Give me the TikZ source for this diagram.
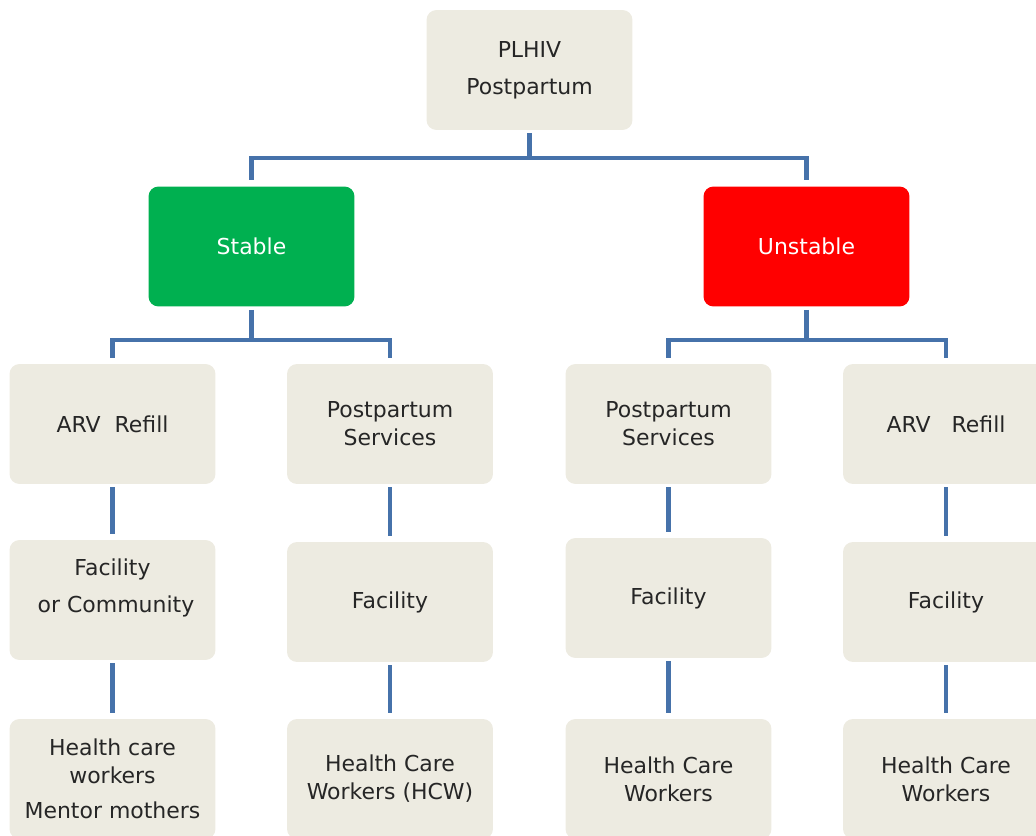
\documentclass[tikz,border=0pt]{standalone}
\usepackage{fontspec}
\setmainfont{DejaVu Sans}
\definecolor{boxfill}{RGB}{237,235,225}
\definecolor{boxtext}{RGB}{38,38,38}
\definecolor{linkblue}{RGB}{70,114,170}
\definecolor{stablegreen}{RGB}{0,176,80}
\definecolor{unstablered}{RGB}{255,0,0}
\begin{document}
\begin{tikzpicture}[x=0.02cm,y=-0.02cm,line join=miter,
box/.style={rectangle,rounded corners=0.2cm,fill=boxfill,text=boxtext,align=center,
  minimum width=4.12cm,minimum height=2.4cm,inner sep=0pt,font=\fontsize{12.5pt}{16pt}\selectfont},
link/.style={draw=linkblue,line width=2.8pt,shorten <=1.7pt,shorten >=3.4pt}]
\clip (0,0) rectangle (1036,836);
\path
(529.5,70) node[box] (plhiv) {PLHIV\\[5pt]Postpartum}
(251.5,246.5) node[box,fill=stablegreen,text=white] (stable) {Stable}
(806.5,246.5) node[box,fill=unstablered,text=white] (unstable) {Unstable}
(112.5,424) node[box] (arvL) {ARV\ \ Refill}
(390,424) node[box] (ppsL) {Postpartum\\Services}
(668.5,424) node[box] (ppsR) {Postpartum\\Services}
(946,424) node[box] (arvR) {ARV\ \ \ Refill}
(112.5,600) node[box] (facL) {Facility\\[5pt]\ or Community\\\mbox{}}
(390,602) node[box] (facML) {Facility}
(668.5,598) node[box] (facMR) {Facility}
(946,602) node[box] (facR) {Facility}
(112.5,779) node[box] (hcwL) {Health care\\workers\\[4pt]Mentor mothers}
(390,779) node[box] (hcwML) {Health Care\\Workers (HCW)}
(668.5,779) node[box] (hcwMR) {Health Care\\Workers}
(946,779) node[box] (hcwR) {Health Care\\Workers}
(529.5,158) coordinate (b0)
(251.5,340) coordinate (bs)
(806.5,340) coordinate (bu)
;
\draw[link,shorten >=0pt] (plhiv.south) -- (b0);
\draw[link,shorten >=0pt] (stable.south) -- (bs);
\draw[link,shorten >=0pt] (unstable.south) -- (bu);
\draw[link,shorten <=0pt] (b0) -| (stable.north);
\draw[link,shorten <=0pt] (b0) -| (unstable.north);
\draw[link,shorten <=0pt] (bs) -| (arvL.north);
\draw[link,shorten <=0pt] (bs) -| (ppsL.north);
\draw[link,shorten <=0pt] (bu) -| (ppsR.north);
\draw[link,shorten <=0pt] (bu) -| (arvR.north);
\foreach\a/\b in {arvL/facL, ppsL/facML, ppsR/facMR, arvR/facR,
  facL/hcwL, facML/hcwML, facMR/hcwMR, facR/hcwR}
\draw[link] (\a) -- (\b);
\end{tikzpicture}
\end{document}
